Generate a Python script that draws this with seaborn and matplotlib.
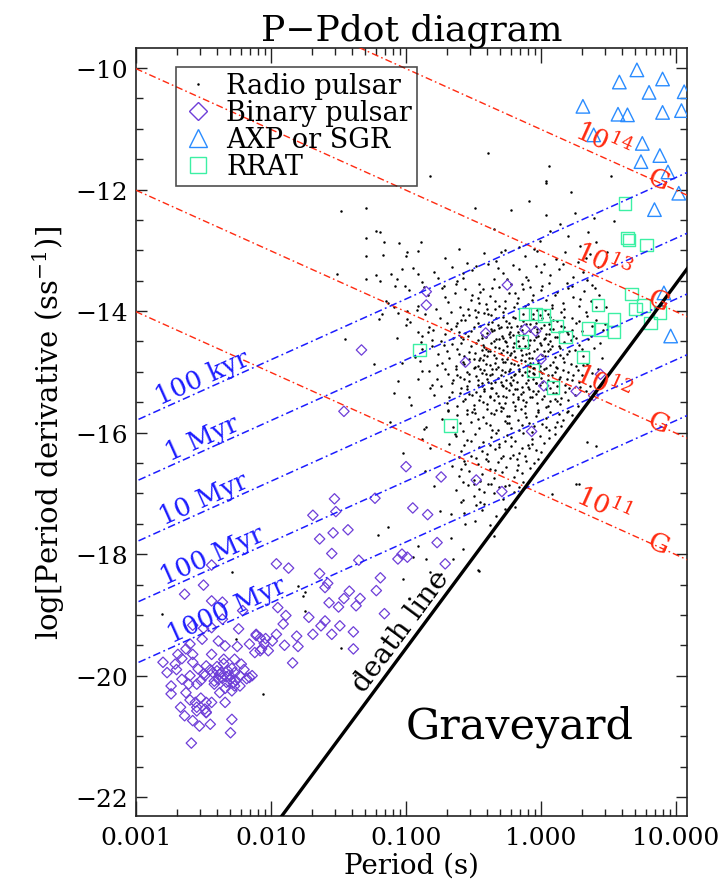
import numpy as np
import pandas as pd
import matplotlib
matplotlib.use("Agg")
import matplotlib.pyplot as plt
import seaborn as sns
from matplotlib.lines import Line2D
from matplotlib.ticker import FixedLocator, MultipleLocator, LogLocator, FuncFormatter, NullFormatter

sns.set_theme(style="ticks")
plt.rcParams["font.family"] = ["DejaVu Serif", "DejaVu Sans"]
plt.rcParams["mathtext.fontset"] = "dejavuserif"
for key in ["text.color", "axes.labelcolor", "xtick.labelcolor", "ytick.labelcolor"]:
    plt.rcParams[key] = "black"

# ---------------- data (log10 P [s], log10 Pdot [s/s]) ----------------
radio_pulsars = [
    # sparse, upper / left
    (-1.48, -12.36), (-1.30, -12.30), (-1.22, -12.69), (-1.19, -12.70), (-1.30, -12.80), (-1.16, -12.86),
    (-1.05, -12.88), (-0.99, -13.03), (-1.00, -13.09), (-1.30, -13.09), (-1.17, -13.08), (-0.91, -13.01),
    (-0.89, -12.87), (-1.51, -13.39), (-1.30, -13.47), (-1.19, -13.50), (-1.11, -13.39), (-1.07, -13.47),
    (-1.03, -13.31), (-1.01, -13.58), (-1.08, -13.58), (-0.91, -13.39), (-1.13, -13.87), (-1.09, -13.94),
    (-1.18, -14.05), (-1.20, -14.13), (-1.06, -14.03), (-0.99, -14.00), (-1.00, -14.23), (-0.91, -14.34),
    (-0.88, -14.41), (-0.84, -14.35), (-0.89, -14.51), (-0.81, -14.57), (-1.45, -14.46), (-1.03, -14.86),
    (-0.90, -14.82), (-0.88, -14.98), (-0.91, -15.12), (-1.06, -15.15), (-0.82, -15.26), (-0.98, -15.42),
    (-0.85, -15.91), (-0.82, -16.26), (-0.88, -16.11),
    (-0.39, -11.39), (0.06, -11.62), (0.04, -11.86), (0.04, -11.89), (0.22, -12.04), (-0.09, -12.18),
    (-0.22, -12.33), (0.52, -11.77), (0.25, -12.38), (0.54, -12.51), (0.14, -12.57), (0.07, -12.69),
    (0.35, -12.70), (0.20, -12.76), (0.41, -12.87), (0.29, -12.93), (-0.01, -12.84), (-0.03, -13.01),
    (-0.35, -12.65), (-0.30, -13.03), (-0.16, -12.95), (0.36, -13.06), (0.49, -13.03), (-0.82, -11.78),
    (-0.49, -12.31), (0.04, -12.42), (0.39, -12.46),
    # sparse, lower
    (-0.46, -18.27), (-0.35, -17.70), (-0.67, -17.73), (-0.56, -17.51), (0.26, -16.85), (0.08, -17.01),
    (-0.19, -17.23), (-0.59, -17.15), (-0.45, -17.15), (-0.50, -16.85), (-0.37, -16.85), (0.41, -16.22),
    (0.28, -16.85), (0.34, -16.16), (-2.29, -18.30), (-2.81, -18.99), (-2.06, -20.30), (-1.80, -18.52),
    (-1.75, -18.63), (-1.38, -19.99), (-1.48, -19.54), (-2.26, -19.40), (-1.75, -18.93), (-1.76, -18.69),
    (-1.21, -17.69), (-1.13, -17.56), (-0.95, -18.05), (-0.91, -17.86), (-0.85, -18.08), (-0.82, -18.30),
    (-0.74, -18.33), (-0.65, -18.08), (-0.47, -18.26), (-0.58, -17.92), (-1.02, -18.41), (-0.75, -17.29),
    (-0.67, -17.34), (-0.87, -15.94), (-1.09, -15.34),
    # main cloud
    (-0.71, -13.12), (-0.55, -13.21), (-0.42, -13.05), (-0.33, -13.18), (-0.21, -13.24), (-0.12, -13.10),
    (0.02, -13.22), (0.11, -13.15), (0.18, -13.03), (0.27, -13.20), (-0.61, -12.98), (-0.48, -13.25),
    (0.33, -13.12), (-0.05, -12.97), (-0.27, -13.00),
    (-1.22, -13.41), (-0.95, -13.29), (-0.88, -13.52), (-0.79, -13.36), (-0.72, -13.58), (-0.66, -13.27),
    (-0.58, -13.45), (-0.51, -13.33), (-0.46, -13.56), (-0.39, -13.22), (-0.35, -13.47), (-0.28, -13.38),
    (-0.22, -13.55), (-0.16, -13.30), (-0.10, -13.49), (-0.04, -13.26), (0.01, -13.58), (0.07, -13.40),
    (0.13, -13.31), (0.19, -13.53), (0.24, -13.44), (0.31, -13.35), (0.38, -13.57), (0.42, -13.28),
    (-0.62, -13.51),
    (-1.15, -13.83), (-0.98, -13.66), (-0.91, -13.92), (-0.84, -13.74), (-0.78, -13.97), (-0.73, -13.62),
    (-0.69, -13.85), (-0.64, -13.71), (-0.60, -13.94), (-0.56, -13.63), (-0.52, -13.81), (-0.49, -13.99),
    (-0.45, -13.68), (-0.41, -13.88), (-0.38, -13.75), (-0.34, -13.96), (-0.31, -13.61), (-0.27, -13.84),
    (-0.24, -13.70), (-0.20, -13.93), (-0.17, -13.78), (-0.13, -13.64), (-0.10, -13.89), (-0.06, -13.73),
    (-0.03, -13.98), (0.00, -13.66), (0.04, -13.82), (0.08, -13.95), (0.12, -13.69), (0.16, -13.86),
    (0.20, -13.62), (0.24, -13.77), (0.28, -13.91), (0.32, -13.67), (0.37, -13.84), (0.43, -13.74),
    (0.48, -13.93), (-0.87, -13.61), (-0.47, -13.79), (-0.08, -13.60),
    (-0.97, -14.18), (-0.86, -14.05), (-0.80, -14.31), (-0.75, -14.12), (-0.71, -14.38), (-0.67, -14.02),
    (-0.63, -14.24), (-0.59, -14.15), (-0.56, -14.36), (-0.53, -14.07), (-0.50, -14.27), (-0.47, -14.19),
    (-0.44, -14.39), (-0.42, -14.03), (-0.39, -14.22), (-0.36, -14.32), (-0.33, -14.11), (-0.31, -14.28),
    (-0.28, -14.01), (-0.26, -14.17), (-0.23, -14.35), (-0.21, -14.09), (-0.18, -14.25), (-0.16, -14.40),
    (-0.13, -14.04), (-0.11, -14.21), (-0.08, -14.33), (-0.06, -14.13), (-0.03, -14.29), (-0.01, -14.06),
    (0.02, -14.23), (0.04, -14.37), (0.07, -14.10), (0.09, -14.30), (0.12, -14.16), (0.15, -14.02),
    (0.17, -14.26), (0.20, -14.38), (0.23, -14.12), (0.26, -14.20), (0.30, -14.33), (0.34, -14.08),
    (0.38, -14.24), (0.41, -14.14), (0.46, -14.31), (-0.61, -14.34), (-0.48, -14.10), (-0.37, -14.06),
    (-0.25, -14.26), (-0.14, -14.31), (-0.04, -14.19), (0.05, -14.05), (0.13, -14.34), (0.28, -14.16),
    (-0.70, -14.20),
    (-0.88, -14.62), (-0.81, -14.47), (-0.76, -14.71), (-0.72, -14.55), (-0.68, -14.78), (-0.65, -14.44),
    (-0.62, -14.63), (-0.59, -14.52), (-0.57, -14.74), (-0.54, -14.41), (-0.52, -14.58), (-0.49, -14.69),
    (-0.47, -14.48), (-0.45, -14.77), (-0.43, -14.56), (-0.41, -14.43), (-0.39, -14.65), (-0.37, -14.53),
    (-0.35, -14.72), (-0.33, -14.46), (-0.31, -14.61), (-0.29, -14.79), (-0.27, -14.50), (-0.25, -14.67),
    (-0.23, -14.42), (-0.21, -14.59), (-0.19, -14.75), (-0.17, -14.49), (-0.15, -14.64), (-0.13, -14.44),
    (-0.11, -14.70), (-0.09, -14.55), (-0.07, -14.78), (-0.05, -14.47), (-0.03, -14.62), (-0.01, -14.53),
    (0.01, -14.73), (0.03, -14.45), (0.05, -14.66), (0.08, -14.57), (0.10, -14.76), (0.12, -14.43),
    (0.14, -14.60), (0.17, -14.51), (0.19, -14.70), (0.22, -14.48), (0.25, -14.64), (0.28, -14.56),
    (0.31, -14.74), (0.35, -14.46), (0.39, -14.61), (0.44, -14.52), (-0.70, -14.66), (-0.58, -14.46),
    (-0.44, -14.64), (-0.34, -14.59), (-0.22, -14.69), (-0.12, -14.58), (-0.02, -14.41), (0.07, -14.50),
    (0.16, -14.78), (0.24, -14.41), (-0.53, -14.79), (-0.40, -14.74), (-0.28, -14.44),
    (-0.83, -14.98), (-0.77, -15.12), (-0.73, -14.86), (-0.69, -15.04), (-0.66, -15.18), (-0.63, -14.91),
    (-0.60, -15.09), (-0.58, -14.83), (-0.55, -15.01), (-0.53, -15.15), (-0.50, -14.94), (-0.48, -15.07),
    (-0.46, -14.81), (-0.44, -15.19), (-0.42, -14.97), (-0.40, -15.11), (-0.38, -14.88), (-0.36, -15.03),
    (-0.34, -15.16), (-0.32, -14.92), (-0.30, -15.06), (-0.28, -14.84), (-0.26, -15.13), (-0.24, -14.99),
    (-0.22, -15.08), (-0.20, -14.87), (-0.18, -15.17), (-0.16, -14.95), (-0.14, -15.05), (-0.12, -14.82),
    (-0.10, -15.14), (-0.08, -14.90), (-0.06, -15.02), (-0.04, -15.19), (-0.02, -14.85), (0.00, -15.10),
    (0.02, -14.96), (0.05, -15.06), (0.07, -14.89), (0.09, -15.16), (0.12, -14.93), (0.14, -15.08),
    (0.17, -14.83), (0.20, -15.00), (0.23, -15.13), (0.26, -14.91), (0.30, -15.05), (0.34, -14.87),
    (0.38, -15.02), (0.42, -14.95), (-0.71, -14.95), (-0.57, -15.12), (-0.47, -14.90), (-0.37, -15.19),
    (-0.29, -14.97), (-0.19, -15.03), (-0.09, -14.98), (0.01, -15.17), (0.10, -15.01), (0.19, -15.11),
    (0.28, -15.17), (-0.62, -15.06), (-0.41, -15.04), (-0.23, -15.18), (-0.05, -14.93),
    (-0.79, -15.38), (-0.74, -15.24), (-0.70, -15.51), (-0.66, -15.33), (-0.62, -15.57), (-0.59, -15.27),
    (-0.56, -15.44), (-0.53, -15.36), (-0.50, -15.55), (-0.47, -15.22), (-0.45, -15.40), (-0.42, -15.31),
    (-0.40, -15.53), (-0.37, -15.26), (-0.35, -15.46), (-0.33, -15.35), (-0.30, -15.58), (-0.28, -15.23),
    (-0.26, -15.42), (-0.24, -15.30), (-0.21, -15.50), (-0.19, -15.28), (-0.17, -15.45), (-0.15, -15.37),
    (-0.12, -15.56), (-0.10, -15.25), (-0.08, -15.41), (-0.06, -15.32), (-0.03, -15.52), (-0.01, -15.21),
    (0.02, -15.39), (0.04, -15.29), (0.07, -15.48), (0.09, -15.34), (0.12, -15.24), (0.15, -15.43),
    (0.18, -15.33), (0.21, -15.27), (0.25, -15.38), (0.29, -15.25), (0.33, -15.31), (-0.68, -15.42),
    (-0.55, -15.29), (-0.43, -15.49), (-0.32, -15.40), (-0.22, -15.21), (-0.13, -15.47), (-0.04, -15.36),
    (0.05, -15.57), (0.14, -15.53), (-0.48, -15.33), (-0.38, -15.39), (-0.27, -15.51), (-0.09, -15.29),
    (0.10, -15.45),
    (-0.73, -15.77), (-0.69, -15.64), (-0.65, -15.90), (-0.62, -15.71), (-0.58, -15.97), (-0.55, -15.62),
    (-0.52, -15.83), (-0.49, -15.68), (-0.46, -15.93), (-0.43, -15.75), (-0.40, -15.61), (-0.38, -15.87),
    (-0.35, -15.70), (-0.32, -15.96), (-0.30, -15.65), (-0.27, -15.81), (-0.25, -15.73), (-0.22, -15.92),
    (-0.19, -15.63), (-0.17, -15.79), (-0.14, -15.88), (-0.12, -15.67), (-0.09, -15.84), (-0.07, -15.99),
    (-0.04, -15.72), (-0.02, -15.62), (0.01, -15.86), (0.04, -15.76), (0.07, -15.66), (0.10, -15.91),
    (0.13, -15.69), (0.16, -15.80), (0.20, -15.64), (0.23, -15.71), (-0.60, -15.85), (-0.47, -15.78),
    (-0.36, -15.95), (-0.28, -15.60), (-0.16, -15.95), (-0.05, -15.89), (0.06, -15.96), (0.12, -15.82),
    (-0.51, -15.66), (-0.24, -15.85), (-0.11, -15.74),
    (-0.68, -16.18), (-0.63, -16.05), (-0.59, -16.31), (-0.55, -16.12), (-0.52, -16.38), (-0.49, -16.02),
    (-0.46, -16.24), (-0.43, -16.15), (-0.40, -16.35), (-0.37, -16.08), (-0.34, -16.27), (-0.31, -16.19),
    (-0.28, -16.39), (-0.25, -16.04), (-0.22, -16.22), (-0.19, -16.13), (-0.16, -16.33), (-0.13, -16.01),
    (-0.10, -16.20), (-0.07, -16.11), (-0.04, -16.29), (-0.01, -16.06), (0.02, -16.17), (0.06, -16.09),
    (0.10, -16.03), (-0.57, -16.21), (-0.44, -16.30), (-0.33, -16.01), (-0.21, -16.37), (-0.09, -16.26),
    (0.00, -16.32), (-0.61, -16.40), (-0.38, -16.21), (-0.27, -16.14), (-0.14, -16.25),
    (-0.66, -16.55), (-0.61, -16.71), (-0.57, -16.47), (-0.53, -16.63), (-0.50, -16.78), (-0.47, -16.52),
    (-0.44, -16.68), (-0.41, -16.44), (-0.38, -16.60), (-0.35, -16.75), (-0.32, -16.49), (-0.29, -16.65),
    (-0.26, -16.57), (-0.23, -16.42), (-0.20, -16.73), (-0.17, -16.53), (-0.14, -16.66), (-0.11, -16.46),
    (-0.08, -16.59), (-0.05, -16.50), (-0.02, -16.43), (-0.59, -16.60), (-0.45, -16.79), (-0.30, -16.41),
    (-0.18, -16.44),
    (-0.63, -16.95), (-0.58, -17.11), (-0.54, -16.87), (-0.50, -17.04), (-0.46, -16.92), (-0.42, -17.17),
    (-0.39, -16.84), (-0.35, -17.00), (-0.31, -16.90), (-0.28, -17.09), (-0.24, -16.86), (-0.20, -16.98),
    (-0.16, -16.89), (-0.13, -16.82), (-0.48, -17.19),
    (-0.57, -17.33), (-0.49, -17.46), (-0.44, -17.28), (-0.38, -17.52), (-0.33, -17.37), (-0.27, -17.25),
    # denser core
    (-0.52, -14.33), (-0.17, -14.88), (0.06, -14.21), (-0.38, -15.41), (-0.61, -14.71), (0.13, -15.12),
    (-0.27, -13.95), (-0.44, -15.02), (-0.08, -14.47), (0.21, -14.66), (-0.33, -14.77), (-0.55, -15.23),
    (-0.02, -15.31), (0.17, -14.09), (-0.46, -13.87), (-0.21, -15.36), (-0.67, -14.29), (0.09, -14.84),
    (-0.12, -13.92), (-0.36, -14.18), (-0.49, -14.92), (0.03, -13.99), (-0.25, -14.58), (-0.58, -15.48),
    (0.24, -15.06), (-0.15, -15.61), (-0.41, -14.62), (-0.05, -14.27), (0.14, -14.73), (-0.30, -15.17),
    (-0.63, -14.96), (-0.19, -14.12), (0.01, -15.44), (-0.48, -14.53), (-0.34, -13.83), (0.19, -14.35),
    (-0.10, -15.07), (-0.56, -14.14), (-0.24, -15.72), (0.07, -14.62), (-0.42, -15.29), (-0.07, -13.81),
    (-0.29, -14.41), (0.11, -15.34), (-0.53, -14.68), (-0.16, -14.99), (0.26, -14.44), (-0.39, -14.05),
    (-0.01, -14.91), (-0.60, -15.34), (-0.22, -14.26), (0.04, -15.58), (-0.45, -14.25), (-0.31, -15.52),
    (0.16, -14.97), (-0.13, -14.39), (-0.50, -15.61), (-0.27, -14.83), (0.09, -14.15), (-0.36, -14.96),
    (-0.04, -15.19), (-0.59, -14.43), (0.22, -14.87), (-0.18, -13.86), (-0.43, -14.81), (0.00, -14.56),
    (-0.26, -15.27), (-0.54, -13.97), (0.12, -15.48), (-0.09, -14.69), (-0.37, -15.68), (-0.20, -14.52),
    (0.18, -15.22), (-0.47, -15.14), (-0.03, -14.34), (-0.65, -15.13), (-0.14, -15.25), (0.08, -13.90),
    (-0.32, -14.23), (-0.57, -14.87), (-0.11, -15.50), (0.15, -14.25), (-0.40, -13.96), (-0.23, -14.95),
    (0.03, -14.74), (-0.51, -15.38), (-0.28, -14.09), (0.20, -15.46), (-0.06, -14.04), (-0.44, -14.44),
    (-0.17, -15.42), (0.05, -15.14), (-0.35, -14.50), (-0.62, -14.19), (0.10, -14.42), (-0.25, -15.84),
    (-0.08, -14.86), (-0.47, -14.02), (0.27, -14.97), (-0.30, -14.69), (-0.13, -14.16), (-0.55, -15.70),
    (0.01, -14.12), (-0.38, -15.05), (-0.19, -15.57), (0.13, -14.58), (-0.42, -14.72), (-0.02, -15.66),
    (-0.66, -14.54), (-0.24, -14.38), (0.07, -15.27), (-0.33, -15.63), (-0.50, -14.79), (-0.10, -14.60),
    (0.17, -13.96), (-0.28, -15.39), (-0.46, -15.47), (-0.05, -15.03), (0.23, -14.31), (-0.37, -14.29),
    (-0.15, -14.80), (-0.58, -14.06), (0.02, -14.46), (-0.21, -15.14), (-0.41, -15.85), (0.11, -14.92),
    (-0.31, -13.91), (-0.07, -15.41), (-0.53, -15.04), (0.30, -14.62),
    (-0.71, -13.77), (-0.43, -13.64), (-0.19, -13.71), (0.06, -13.53), (0.29, -13.80), (-0.58, -13.38),
    (-0.32, -13.29), (-0.11, -13.44), (0.16, -13.22), (0.40, -13.62), (-0.83, -14.27), (-0.77, -14.88),
    (-0.69, -15.62), (-0.74, -14.49), (-0.81, -15.21), (-0.64, -16.02), (-0.52, -16.13), (-0.39, -16.47),
    (-0.22, -16.08), (-0.07, -16.19), (0.04, -15.91), (-0.12, -16.38), (-0.34, -16.61), (-0.48, -16.42),
    (-0.27, -16.88), (-0.42, -16.97), (-0.58, -16.82), (-0.18, -16.62), (-0.31, -16.23), (-0.56, -16.51),
    (0.33, -14.02), (0.37, -14.41), (0.31, -14.89), (0.36, -15.24), (0.27, -15.56), (0.45, -14.78),
    (0.41, -13.94), (0.47, -14.22), (0.19, -15.66), (0.15, -15.89), (-0.93, -14.76), (-0.96, -15.55),
    (-1.07, -14.45), (-1.12, -15.82), (-0.92, -13.99), (-1.02, -16.34), (-0.86, -16.63), (-0.99, -14.13),
    (-1.24, -14.87), (-0.79, -16.88), (-0.63, -13.55), (-0.36, -13.62), (-0.14, -13.55), (0.10, -13.73),
    (0.34, -13.49), (-0.51, -13.73), (-0.25, -13.47), (0.00, -13.35), (0.23, -13.59), (-0.76, -13.45),
    (-0.41, -14.87), (-0.35, -14.31), (-0.29, -15.21), (-0.23, -14.73), (-0.17, -14.34), (-0.11, -15.19),
    (-0.05, -14.66), (0.01, -15.02), (0.07, -14.29), (-0.38, -14.66), (-0.32, -15.10), (-0.26, -14.51),
    (-0.20, -15.06), (-0.14, -14.72), (-0.08, -14.22), (-0.02, -14.81), (0.04, -14.93), (-0.44, -15.24),
    (-0.34, -14.85), (-0.24, -14.20), (-0.16, -14.57), (-0.06, -15.12), (0.06, -14.38), (-0.40, -14.36),
    (-0.28, -14.64), (-0.18, -15.28), (-0.10, -14.48), (0.02, -14.65), (-0.36, -15.26), (-0.22, -14.86),
    (-0.12, -15.01), (-0.04, -14.43), (0.08, -15.05), (-0.30, -14.27), (-0.20, -14.66), (-0.06, -14.94),
    (-0.42, -14.59), (-0.27, -15.01), (-0.15, -14.24), (0.00, -14.28), (-0.33, -14.95), (-0.21, -14.40),
    (-0.09, -14.78), (0.05, -14.54), (-0.39, -15.16), (-0.25, -14.79), (-0.13, -15.33), (-0.01, -14.99),
    (-0.45, -14.95), (-0.31, -14.46),
]

binary_pulsars = [
    (-0.85, -13.68), (-0.85, -13.90), (-1.33, -14.64), (-1.46, -15.65), (-0.25, -13.57), (-0.41, -14.36),
    (-0.12, -14.30), (-0.04, -14.33), (-0.56, -14.84), (0.00, -14.79), (0.02, -15.23), (0.26, -15.32),
    (0.39, -15.39), (0.44, -15.04), (-0.07, -15.98), (-1.00, -16.56), (-0.74, -16.73), (-0.48, -16.78),
    (-0.29, -16.97), (-1.53, -17.09), (-1.69, -17.36), (-1.52, -17.30), (-1.23, -17.08), (-0.95, -17.24),
    (-0.84, -17.35), (-1.64, -17.75), (-1.54, -17.65), (-1.43, -17.60), (-1.55, -17.99), (-0.77, -17.81),
    (-1.35, -18.10), (-1.03, -18.00), (-0.99, -18.05), (-1.06, -18.08), (-0.71, -18.16), (-1.96, -18.16),
    (-1.87, -18.23), (-1.64, -18.32), (-1.19, -18.39), (-1.58, -18.48), (-1.60, -18.55), (-1.42, -18.61),
    (-1.22, -18.60), (-1.34, -18.73), (-1.57, -18.80), (-1.46, -18.73), (-1.50, -18.87), (-1.37, -18.85),
    (-1.95, -18.88), (-1.89, -19.01), (-1.72, -19.04), (-1.60, -19.10), (-1.16, -18.98), (-1.91, -19.15),
    (-2.11, -19.32), (-1.96, -19.32), (-1.81, -19.35), (-1.69, -19.32), (-1.63, -19.18), (-1.55, -19.32),
    (-1.49, -19.18), (-1.39, -19.28), (-1.90, -19.50), (-1.80, -19.52), (-1.39, -19.56), (-1.84, -19.79),
    (-2.08, -19.59), (-2.14, -20.00),
    (-2.44, -18.18), (-2.50, -18.51), (-2.64, -18.66), (-2.36, -18.79), (-2.44, -18.77), (-2.21, -18.93),
    (-2.24, -19.23), (-2.50, -19.22), (-2.58, -19.17), (-2.36, -19.07), (-2.44, -19.21), (-2.11, -19.34),
    (-2.04, -19.39), (-2.25, -19.52), (-2.34, -19.51), (-2.39, -19.43), (-2.51, -19.40), (-2.60, -19.48),
    (-2.63, -19.56), (-2.69, -19.65), (-2.80, -19.78), (-2.71, -19.81), (-2.58, -19.65), (-2.44, -19.65),
    (-2.35, -19.73), (-2.27, -19.73), (-2.22, -19.81), (-2.07, -19.56), (-2.02, -19.59), (-2.16, -20.03),
    (-2.27, -20.17), (-2.34, -20.21), (-2.39, -20.06), (-2.43, -19.95), (-2.49, -20.00), (-2.54, -19.89),
    (-2.48, -19.84), (-2.40, -19.92), (-2.37, -19.95), (-2.32, -19.92), (-2.30, -20.06), (-2.33, -20.11),
    (-2.42, -20.14), (-2.23, -20.00), (-2.23, -20.17), (-2.29, -20.25), (-2.38, -20.28), (-2.27, -19.95),
    (-2.60, -20.00), (-2.66, -20.06), (-2.77, -19.95), (-2.74, -20.17), (-2.61, -20.14), (-2.55, -20.14),
    (-2.74, -20.30), (-2.63, -20.28), (-2.56, -20.44), (-2.48, -20.44), (-2.44, -20.44), (-2.55, -20.52),
    (-2.49, -20.55), (-2.48, -20.61), (-2.34, -20.44), (-2.67, -20.52), (-2.64, -20.66), (-2.58, -20.74),
    (-2.53, -20.83), (-2.45, -20.80), (-2.29, -20.72), (-2.30, -20.94), (-2.59, -21.11),
    (-2.38, -19.98), (-2.33, -20.02), (-2.29, -19.88), (-2.42, -20.09), (-2.36, -20.04), (-2.31, -19.99),
    (-2.26, -20.08), (-2.45, -19.90), (-2.50, -19.97), (-2.40, -19.85), (-2.35, -19.80), (-2.28, -20.12),
    (-2.20, -19.90), (-2.18, -20.05), (-2.52, -20.08), (-2.58, -19.78), (-2.66, -19.72), (-2.70, -19.90),
    (-2.12, -19.62), (-2.16, -19.48), (-2.05, -19.47), (-1.99, -19.43), (-2.08, -19.38), (-2.60, -20.40),
    (-2.52, -20.37), (-2.48, -20.60), (-2.55, -20.58),
]

axp_sgr = [
    (0.71, -10.03), (0.58, -10.23), (0.90, -10.18), (0.80, -10.40), (1.06, -10.39), (0.31, -10.63),
    (0.57, -10.76), (0.64, -10.77), (0.90, -10.73), (1.04, -10.70), (0.39, -11.10), (0.75, -11.24),
    (0.88, -11.44), (0.74, -11.54), (0.94, -11.71), (1.02, -12.06), (0.84, -12.33), (0.91, -13.70),
    (0.96, -14.41),
]

rrats = [
    (0.62, -12.23), (0.64, -12.80), (0.65, -12.83), (0.78, -12.91), (0.67, -13.72), (0.42, -13.90),
    (0.70, -13.97), (0.76, -13.91), (0.88, -14.02), (0.81, -14.20), (0.54, -14.14), (0.54, -14.34),
    (0.44, -14.30), (0.35, -14.29), (0.12, -14.25), (0.18, -14.43), (0.31, -14.76), (-0.12, -14.05),
    (-0.04, -14.05), (0.02, -14.07), (-0.14, -14.50), (-0.06, -14.98), (0.09, -15.26), (-0.90, -14.64),
    (-0.67, -15.88),
]

field_exponents = [11, 12, 13, 14]          # B in gauss = 10**k
age_values_yr = [1e5, 1e6, 1e7, 1e8, 1e9]
age_labels = ["100 kyr", "1 Myr", "10 Myr", "100 Myr", "1000 Myr"]
age_label_logP = [-2.47, -2.47, -2.46, -2.40, -2.29]
death_B_over_P2 = 0.17e12                   # death line, gauss / s^2

x_ticks = [0.001, 0.01, 0.1, 1.0, 10.0]
x_tick_labels = ["0.001", "0.010", "0.100", "1.000", "10.000"]
y_ticks = [-22, -20, -18, -16, -14, -12, -10]

def to_df(pts):
    d = pd.DataFrame(pts, columns=["logP", "logPdot"])
    d["P"] = 10 ** d["logP"]
    return d

radio_df = to_df(radio_pulsars)
bin_df = to_df(binary_pulsars)
axp_df = to_df(axp_sgr)
rrat_df = to_df(rrats)

RED = "#ff2a10"
BLUE = "#1c1cff"
PURPLE = "#6e3ed8"
AXPC = "#2a8cff"
RRATC = "#3cf0a4"

W, H = 726, 887
fig = plt.figure(figsize=(W / 100, H / 100), dpi=100)
ax = fig.add_axes([136 / W, 1 - 817 / H, 551 / W, 768 / H])
ax.set_xscale("log")
ax.set_xlim(1e-3, 10 ** 1.081)
ax.set_ylim(-22.31, -9.67)

sns.scatterplot(data=radio_df, x="P", y="logPdot", ax=ax, s=3.2, color="black",
                marker="o", linewidth=0, legend=False, zorder=2)
sns.scatterplot(data=bin_df, x="P", y="logPdot", ax=ax, s=28, marker="D",
                color=PURPLE, facecolor="none", edgecolor=PURPLE, linewidth=0.9,
                legend=False, zorder=3)
sns.scatterplot(data=axp_df, x="P", y="logPdot", ax=ax, s=95, marker="^",
                color=AXPC, facecolor="none", edgecolor=AXPC, linewidth=1.0,
                legend=False, zorder=3)
sns.scatterplot(data=rrat_df, x="P", y="logPdot", ax=ax, s=80, marker="s",
                color=RRATC, facecolor="none", edgecolor=RRATC, linewidth=1.0,
                legend=False, zorder=3)

# model lines
lp = np.linspace(-3.2, 1.2, 300)
dashdot = (0, (5, 2.2, 1.2, 2.2))
def bline(k, l):
    return 2 * k - 2 * np.log10(3.2e19) - l
def ageline(t, l):
    return l - np.log10(2 * t * 3.156e7)
def deathline(l):
    return 2 * np.log10(death_B_over_P2 / 3.2e19) + 3 * l

for k in field_exponents:
    ax.plot(10 ** lp, bline(k, lp), color=RED, lw=1.0, ls=dashdot, zorder=4)
for t in age_values_yr:
    ax.plot(10 ** lp, ageline(t, lp), color=BLUE, lw=1.1, ls=dashdot, zorder=4)
ax.plot(10 ** lp, deathline(lp), color="black", lw=2.4, zorder=5, solid_capstyle="butt")

def screen_angle(f, l0):
    p1 = ax.transData.transform((10 ** l0, f(l0)))
    p2 = ax.transData.transform((10 ** (l0 + 0.05), f(l0 + 0.05)))
    return np.degrees(np.arctan2(p2[1] - p1[1], p2[0] - p1[0]))

def line_label(text, f, l0, gap, color, size):
    a = screen_angle(f, l0)
    r = np.radians(a)
    ax.annotate(text, xy=(10 ** l0, f(l0)), xytext=(-np.sin(r) * gap, np.cos(r) * gap),
                textcoords="offset points", rotation=a, rotation_mode="anchor",
                ha="center", va="baseline", color=color, fontsize=size, zorder=6)

for t, lab, l0 in zip(age_values_yr, age_labels, age_label_logP):
    line_label(lab, lambda l, t=t: ageline(t, l), l0, 3.5, BLUE, 18.5)
for k in field_exponents:
    f = lambda l, k=k: bline(k, l)
    line_label(r"10$^{%d}$" % k, f, 0.41, 5.0, RED, 19)
    line_label("G", f, 0.86, -3.5, RED, 19)
line_label("death line", deathline, -0.95, 5.0, "black", 20.5)

ax.text(10 ** -0.156, -20.83, "Graveyard", ha="center", va="center", fontsize=31, color="black")

# axes cosmetics
ax.xaxis.set_major_locator(FixedLocator(x_ticks))
ax.xaxis.set_major_formatter(FuncFormatter(
    lambda v, p: x_tick_labels[int(np.argmin([abs(np.log10(q) - np.log10(v)) for q in x_ticks]))]))
ax.xaxis.set_minor_locator(LogLocator(base=10, subs=np.arange(2, 10)))
ax.xaxis.set_minor_formatter(NullFormatter())
ax.yaxis.set_major_locator(FixedLocator(y_ticks))
ax.yaxis.set_minor_locator(MultipleLocator(0.5))
ax.tick_params(which="both", direction="in", top=True, right=True, colors="#222222",
               labelsize=18, labelcolor="black")
ax.tick_params(axis="x", which="major", length=11, width=1.0, pad=7)
ax.tick_params(axis="x", which="minor", length=5, width=1.0)
ax.tick_params(axis="y", which="major", length=8, width=1.0, pad=6)
ax.tick_params(axis="y", which="minor", length=5, width=1.0)
for s in ax.spines.values():
    s.set_linewidth(1.2)
    s.set_color("#222222")
ax.grid(False)

ax.set_xlabel("Period (s)", fontsize=20, labelpad=2, color="black")
ax.set_ylabel("log[Period derivative (ss$^{-1}$)]", fontsize=21, labelpad=6, color="black")
ax.set_title("P\u2212Pdot diagram", fontsize=26, pad=6, color="black")

handles = [
    Line2D([], [], ls="none", marker="o", ms=1.8, color="black", markeredgewidth=0),
    Line2D([], [], ls="none", marker="D", ms=9, markerfacecolor="none", markeredgecolor=PURPLE, markeredgewidth=1.0),
    Line2D([], [], ls="none", marker="^", ms=13, markerfacecolor="none", markeredgecolor=AXPC, markeredgewidth=1.0),
    Line2D([], [], ls="none", marker="s", ms=12, markerfacecolor="none", markeredgecolor=RRATC, markeredgewidth=1.0),
]
labels = ["Radio pulsar", "Binary pulsar", "AXP or SGR", "RRAT"]
leg = ax.legend(handles, labels, loc="upper left", bbox_to_anchor=((176 - 136) / 551, (817 - 68) / 768),
                fontsize=19.5, frameon=True, fancybox=False, edgecolor="#222222", facecolor="none",
                framealpha=None, handlelength=1.2, handletextpad=0.45, labelspacing=0.0,
                borderpad=0.2, borderaxespad=0.0)
leg.get_frame().set_linewidth(1.2)
leg.set_zorder(7)

fig.savefig("out.png", dpi=100)
